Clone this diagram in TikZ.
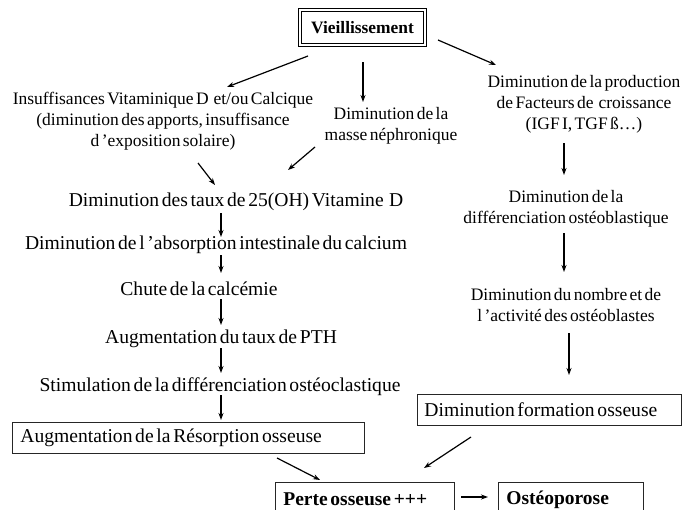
\documentclass[tikz,border=0pt]{standalone}
\usepackage{fontspec}
\setmainfont{Liberation Serif}[WordSpace=0.55]
\usetikzlibrary{arrows.meta}
\begin{document}
\begin{tikzpicture}[x=1pt,y=-1pt,
  big/.style={inner sep=0pt, align=center, font=\fontsize{19.6}{23}\selectfont},
  small/.style={inner sep=0pt, align=center, font=\fontsize{17.5}{21}\selectfont},
  bx/.style={draw=black!85, line width=0.8pt, inner ysep=0pt, anchor=north west},
  arr/.style={-{Stealth[length=7pt,width=5pt]}, line width=1.2pt}]
\useasboundingbox (0,0) rectangle (682,509);
\clip (0,0) rectangle (682,509);
\fill[white] (0,0) rectangle (682,509);

% nodes
\node[draw, double, double distance=2pt, line width=1pt, minimum width=125pt, minimum height=35pt,
      inner sep=0pt, font=\bfseries\fontsize{17.4}{20}\selectfont] (v) at (362.5,27.5) {Vieillissement};
\node[small] (ins) at (163,121) {Insuffisances Vitaminique D\ \ et/ou Calcique\\(diminution des apports, insuffisance\\d ’exposition solaire)};
\node[small] (neph) at (391,126) {Diminution de la\\masse néphronique};
\node[small] (fac) at (584,104.5) {Diminution de la production\\de Facteurs de\ \ croissance\\(IGF I, TGF ß…)};
\node[big] (c25) at (236,202) {Diminution des taux de 25(OH) Vitamine\ \ D};
\node[big] (abs) at (216,245) {Diminution de l ’absorption intestinale du calcium};
\node[big] (chute) at (199,289) {Chute de la calcémie};
\node[big] (pth) at (221,339) {Augmentation du taux de PTH};
\node[big] (stim) at (220,387) {Stimulation de la différenciation ostéoclastique};
\node[bx, inner xsep=8pt, minimum height=31pt, font=\fontsize{19.6}{23}\selectfont] (res) at (12,422)
  {\makebox[336pt][l]{Augmentation de la Résorption osseuse}};
\node[small] (odiff) at (566,208.5) {Diminution de la\\différenciation ostéoblastique};
\node[small] (onb) at (566,305.5) {Diminution du nombre et de\\l ’activité des ostéoblastes};
\node[bx, inner xsep=7pt, minimum height=31pt, font=\fontsize{19.6}{23}\selectfont] (form) at (417,394)
  {\makebox[250pt][l]{Diminution formation osseuse}};
\node[bx, inner xsep=8pt, minimum height=34pt, font=\bfseries\fontsize{19.5}{23}\selectfont] (perte) at (275,482)
  {\makebox[163pt][l]{Perte osseuse +++}};
\node[bx, inner xsep=8pt, minimum height=34pt, font=\bfseries\fontsize{19.5}{23}\selectfont] (osteo) at (498,482)
  {\makebox[129pt][l]{Ostéoporose}};

% connectors
\draw[arr] ([shift={(-54.5,28.5)}]v.center) -- ([shift={(64,-34)}]ins.center);
\draw[arr] ([shift={(0.5,34.5)}]v.center) -- ([shift={(-28,-24)}]neph.center);
\draw[arr] ([shift={(75.5,12.5)}]v.center) -- ([shift={(-88,-39.5)}]fac.center);
\draw[arr] ([shift={(35,42)}]ins.center) -- ([shift={(-21,-17)}]c25.center);
\draw[arr] ([shift={(-76,21)}]neph.center) -- ([shift={(52,-32)}]c25.center);
\draw[arr] ([shift={(-15,11)}]c25.center) -- ([shift={(5,-8)}]abs.center);
\draw[arr] ([shift={(5,10)}]abs.center) -- ([shift={(22,-16)}]chute.center);
\draw[arr] ([shift={(22,10)}]chute.center) -- ([shift={(0,-14)}]pth.center);
\draw[arr] ([shift={(0,9)}]pth.center) -- ([shift={(1,-14)}]stim.center);
\draw[arr] ([shift={(1,8)}]stim.center) -- ([shift={(209,-2)}]res.north west);
\draw[arr] ([shift={(-20,38.5)}]fac.center) -- ([shift={(-2,-33.5)}]odiff.center);
\draw[arr] ([shift={(-2,24.5)}]odiff.center) -- ([shift={(-2,-33.5)}]onb.center);
\draw[arr] ([shift={(3,27.5)}]onb.center) -- ([shift={(152,-19)}]form.north west);
\draw[arr] ([shift={(265,36)}]res.north west) -- ([shift={(45,-2)}]perte.north west);
\draw[arr] ([shift={(54,43)}]form.north west) -- ([shift={(149,-14)}]perte.north west);
\draw[arr] ([shift={(186,15)}]perte.north west) -- ([shift={(-10,15)}]osteo.north west);
\end{tikzpicture}
\end{document}
